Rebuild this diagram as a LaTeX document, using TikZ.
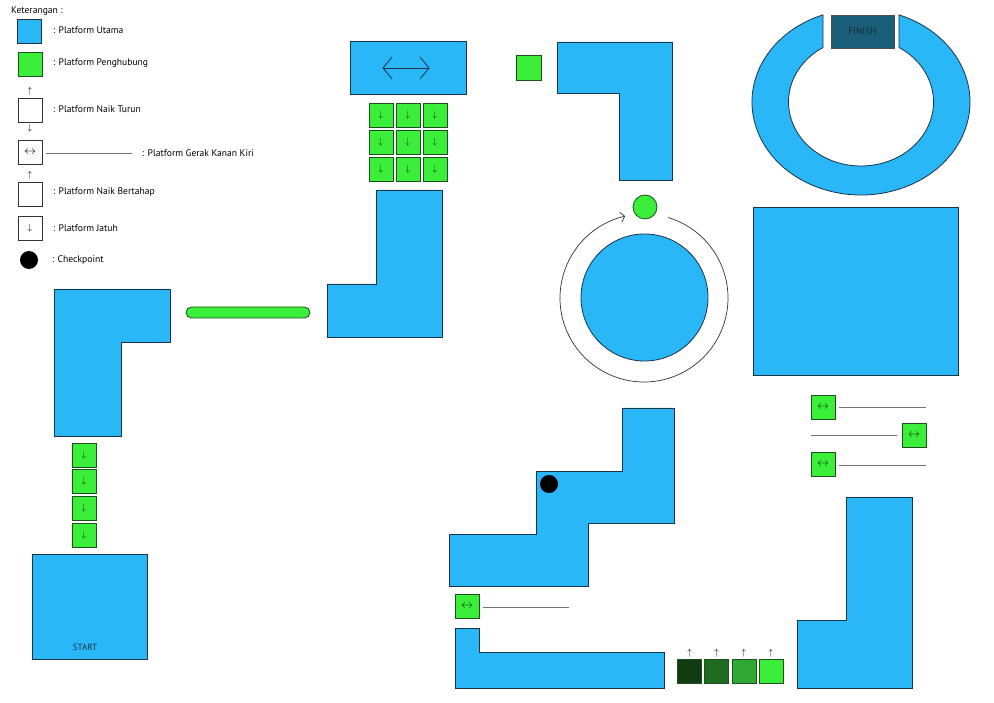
\documentclass[tikz,border=0pt]{standalone}
\usepackage{fontspec}
\setmainfont{PT Sans}
\usetikzlibrary{arrows.meta,calc}
\definecolor{plat}{RGB}{41,183,247}
\definecolor{edge}{RGB}{28,52,72}
\definecolor{gr}{RGB}{58,238,58}
\definecolor{gedge}{RGB}{28,80,30}
\definecolor{garrow}{RGB}{15,55,15}
\definecolor{teal}{RGB}{27,94,122}
\definecolor{stepA}{RGB}{16,60,18}
\definecolor{stepB}{RGB}{30,108,34}
\definecolor{stepC}{RGB}{46,168,50}
\definecolor{stepD}{RGB}{58,238,58}
\begin{document}
\begin{tikzpicture}[x=1pt,y=1pt,
  mainp/.style={fill=plat, draw=edge, line width=0.8pt, line join=miter},
  sq/.style={draw, minimum size=24pt, inner sep=0pt, outer sep=0pt, line width=0.8pt},
  gsq/.style={sq, fill=gr, draw=gedge, text=garrow},
  wsq/.style={sq, fill=white, draw=black!80},
  lbl/.style={anchor=west, inner sep=0pt, font=\fontsize{9.6}{11}\selectfont},
  arrtxt/.style={inner sep=0pt, font=\small},
  dots/.style={draw=black!55, line width=0.45pt, dash pattern=on 0.5pt off 0.5pt}]
\useasboundingbox (0,0) rectangle (994,-703);
\fill[white] (0,0) rectangle (994,-703);

% ---------------- Legend ----------------
\node[lbl] (ket) at (11,-11) {Keterangan :};
\node[sq, fill=plat, draw=edge] (lu) at (29.5,-31) {};
\node[lbl] (tu) at (53,-30) {: Platform Utama};
\node[sq, fill=gr, draw=gedge] (lp) at (30,-64) {};
\node[lbl] (tp) at (53,-63) {: Platform Penghubung};
\node[arrtxt] (lnt1) at (30,-91) {$\uparrow$};
\node[wsq] (lnt) at (30,-110) {};
\node[arrtxt] (lnt2) at (30,-128) {$\downarrow$};
\node[lbl] (tnt) at (53,-109) {: Platform Naik Turun};
\node[wsq, font=\fontsize{13}{13}\selectfont] (lg) at (30,-152.5) {$\leftrightarrow$};
\coordinate (lgd1) at (46,-153);
\coordinate (lgd2) at (132,-153);
\draw[dots] (lgd1) -- (lgd2);
\node[lbl] (tg) at (142,-153) {: Platform Gerak Kanan Kiri};
\node[arrtxt] (lnb1) at (30,-175) {$\uparrow$};
\node[wsq] (lnb) at (30,-194) {};
\node[lbl] (tnb) at (53,-192) {: Platform Naik Bertahap};
\node[wsq, font=\small] (lj) at (30,-228) {$\downarrow$};
\node[lbl] (tj) at (53,-228) {: Platform Jatuh};
\fill[black] (29,-260) circle[radius=9];
\node[lbl] (tc) at (52,-260) {: Checkpoint};

% ---------------- Left column ----------------
\draw[mainp] (54,-289) -- (170,-289) -- (170,-342) -- (121,-342) -- (121,-436) -- (54,-436) -- cycle;
\draw[fill=gr, draw=gedge, line width=0.8pt, rounded corners=5.5pt] (186,-307) rectangle (310,-318);
\foreach \i/\y in {1/455,2/481.7,3/508.3,4/535}
  \node[gsq, font=\small] (c\i) at (84,-\y) {$\downarrow$};
\draw[mainp] (32,-554) rectangle (147,-659);
\node[inner sep=0pt, font=\fontsize{9}{10}\selectfont, text=edge] (start) at (85,-647) {START};

% ---------------- Top middle ----------------
\draw[mainp] (350,-41) rectangle (466,-94);
\draw[edge, line width=0.8pt] (392,-57) -- (383,-68) -- (392,-79);
\draw[edge, line width=0.8pt] (383,-68) -- (429,-68);
\draw[edge, line width=0.8pt] (420,-57) -- (429,-68) -- (420,-79);
\foreach \c/\x in {1/381,2/408,3/435}
  \foreach \r/\y in {1/115,2/142,3/169}
    \node[gsq, font=\small] (m\r\c) at (\x,-\y) {$\downarrow$};
\draw[mainp] (376,-190) -- (442,-190) -- (442,-337) -- (327,-337) -- (327,-284) -- (376,-284) -- cycle;

\node[sq, fill=gr, draw=gedge, minimum size=25pt] (gsmall) at (528.5,-68) {};
\draw[mainp] (557,-42) -- (672,-42) -- (672,-180) -- (619,-180) -- (619,-93) -- (557,-93) -- cycle;

% ---------------- Circle ----------------
\draw[black!80, line width=0.7pt, -{Straight Barb[length=4pt,width=10pt]}]
  (644,-298) ++(73.4:84) arc[start angle=73.4, end angle=-257, radius=84];
\draw[mainp] (644.5,-297.5) circle[radius=63.5];
\draw[fill=gr, draw=gedge, line width=0.8pt] (645,-207) circle[radius=12];

% ---------------- Finish ring ----------------
\draw[mainp] (823,-14.85) arc[start angle=110.4, end angle=429.6, x radius=109, y radius=93]
  -- (899,-47.5) arc[start angle=58.4, end angle=-238.4, x radius=72.5, y radius=64] -- cycle;
\draw[fill=teal, draw=black!70, line width=0.8pt] (831,-15) rectangle (894,-48);
\node[inner sep=0pt, font=\fontsize{9.5}{10}\selectfont, text=edge!80!black] (finish) at (862.5,-31.5) {FINISH};

\draw[mainp] (753,-207) rectangle (958,-375);

% ---------------- Right movers ----------------
\node[gsq, font=\fontsize{13}{13}\selectfont] (r1) at (823,-407) {$\leftrightarrow$};
\coordinate (r1e) at (926,-407);
\draw[dots] (r1.east) ++(4,0) -- (r1e);
\node[gsq, font=\fontsize{13}{13}\selectfont] (r2) at (914,-435) {$\leftrightarrow$};
\coordinate (r2s) at (811,-435);
\draw[dots] (r2s) -- ($(r2.west)+(-5,0)$);
\node[gsq, font=\fontsize{13}{13}\selectfont] (r3) at (823,-464.5) {$\leftrightarrow$};
\coordinate (r3e) at (926,-465);
\draw[dots] ($(r3.east)+(4,-0.5)$) -- (r3e);

% ---------------- Staircase ----------------
\draw[mainp] (622,-408) -- (674,-408) -- (674,-523) -- (588,-523) -- (588,-586) -- (449,-586)
  -- (449,-534) -- (536,-534) -- (536,-471) -- (622,-471) -- cycle;
\fill[black] (549,-484) circle[radius=9];

\node[gsq, font=\fontsize{13}{13}\selectfont] (b1) at (467,-606) {$\leftrightarrow$};
\coordinate (b1e) at (569,-607);
\draw[dots] ($(b1.east)+(4,-1)$) -- (b1e);

\draw[mainp] (455,-628) -- (479,-628) -- (479,-652) -- (664,-652) -- (664,-688) -- (455,-688) -- cycle;

% ---------------- Stepwise ----------------
\foreach \i/\x/\col in {1/689.5/stepA,2/716.5/stepB,3/744/stepC,4/771/stepD}{
  \node[sq, fill=\col, draw=gedge] (s\i) at (\x,-671) {};
  \node[arrtxt] (sa\i) at (\x,-653) {$\uparrow$};
}

\draw[mainp] (846,-497) -- (912,-497) -- (912,-688) -- (797,-688) -- (797,-620) -- (846,-620) -- cycle;
\end{tikzpicture}
\end{document}
